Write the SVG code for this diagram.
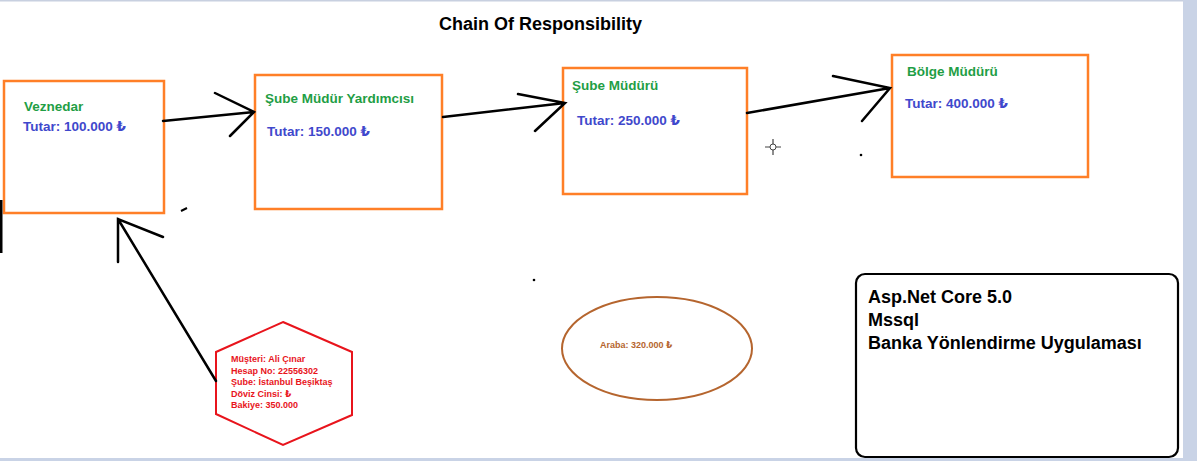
<svg xmlns="http://www.w3.org/2000/svg" width="1197" height="461" viewBox="0 0 1197 461">
<style>
.box{fill:#fff;stroke:#ff7f27;stroke-width:2.5}
.t{font-family:"Liberation Sans","DejaVu Sans",sans-serif;font-weight:bold}
.g{fill:#1f9e45;font-size:13.5px}
.b{fill:#3f48cc;font-size:13.5px}
.r{fill:#e8141c;font-size:9px}
.k{fill:#000;font-size:18px}
.c{fill:none;stroke:#000;stroke-width:2.5;stroke-linecap:round}
</style>
<rect x="0" y="0" width="1197" height="461" fill="#fff"/>
<rect x="0" y="0" width="1197" height="1.5" fill="#c8d0e0"/>
<rect x="1183" y="0" width="14" height="461" fill="#c9d3e6"/>
<rect x="0" y="458" width="1197" height="3" fill="#c9d3e6"/>
<text class="t k" x="439" y="30">Chain Of Responsibility</text>

<g id="veznedar">
<rect class="box" x="4" y="81" width="160" height="132"/>
<text class="t g" x="24" y="111">Veznedar</text>
<text class="t b" x="23" y="131">Tutar: 100.000 ₺</text>
</g>
<g id="sube-mudur-yardimcisi">
<rect class="box" x="255" y="75" width="187" height="134"/>
<text class="t g" x="265" y="103">Şube Müdür Yardımcısı</text>
<text class="t b" x="267" y="136">Tutar: 150.000 ₺</text>
</g>
<g id="sube-muduru">
<rect class="box" x="563" y="68" width="184" height="126"/>
<text class="t g" x="572" y="90">Şube Müdürü</text>
<text class="t b" x="577" y="125">Tutar: 250.000 ₺</text>
</g>
<g id="bolge-muduru">
<rect class="box" x="892" y="55" width="196" height="122"/>
<text class="t g" x="907" y="76">Bölge Müdürü</text>
<text class="t b" x="905" y="108">Tutar: 400.000 ₺</text>
</g>
<g id="musteri">
<polygon points="283,322 352,352 352,415 283,445 216,414 216,352" fill="#fff" stroke="#e8141c" stroke-width="2"/>
<text class="t r" x="231" y="362">Müşteri: Ali Çınar</text>
<text class="t r" x="231" y="373.5">Hesap No: 22556302</text>
<text class="t r" x="231" y="385">Şube: İstanbul Beşiktaş</text>
<text class="t r" x="231" y="396.5">Döviz Cinsi: ₺</text>
<text class="t r" x="231" y="408">Bakiye: 350.000</text>
</g>
<g id="araba">
<ellipse cx="657" cy="348.5" rx="95" ry="51.5" fill="none" stroke="#b5652e" stroke-width="2"/>
<text class="t" x="600" y="348" font-size="9px" fill="#b5652e">Araba: 320.000 ₺</text>
</g>
<g id="bilgi">
<rect x="856" y="274" width="322" height="183" rx="9" fill="#fff" stroke="#000" stroke-width="2.2"/>
<text class="t k" x="868" y="303">Asp.Net Core 5.0</text>
<text class="t k" x="868" y="326">Mssql</text>
<text class="t k" x="868" y="349">Banka Yönlendirme Uygulaması</text>
</g>

<g id="connectors">
<path class="c" d="M163,121 L254,112 M215,93 L254,112 L230,136"/>
<path class="c" d="M443,117 L565,103 M518,94 L565,103 L535,131"/>
<path class="c" d="M747,113 L890,88 M833,76 L890,88 L862,121"/>
<path class="c" d="M216,381 L118,219 M118,262 L118,219 L163,237"/>
</g>

<g id="marks">
<rect x="0" y="200" width="2.5" height="53" fill="#000"/>
<line x1="181" y1="211" x2="187" y2="208" stroke="#000" stroke-width="2"/>
<circle cx="861" cy="155" r="1.3" fill="#000"/>
<circle cx="534" cy="280" r="1.3" fill="#000"/>
<circle cx="773" cy="147" r="3" fill="none" stroke="#444" stroke-width="1"/>
<path d="M765,147 H770 M776,147 H781 M773,139 V144 M773,150 V155" stroke="#444" stroke-width="1.2"/>
</g>
</svg>
